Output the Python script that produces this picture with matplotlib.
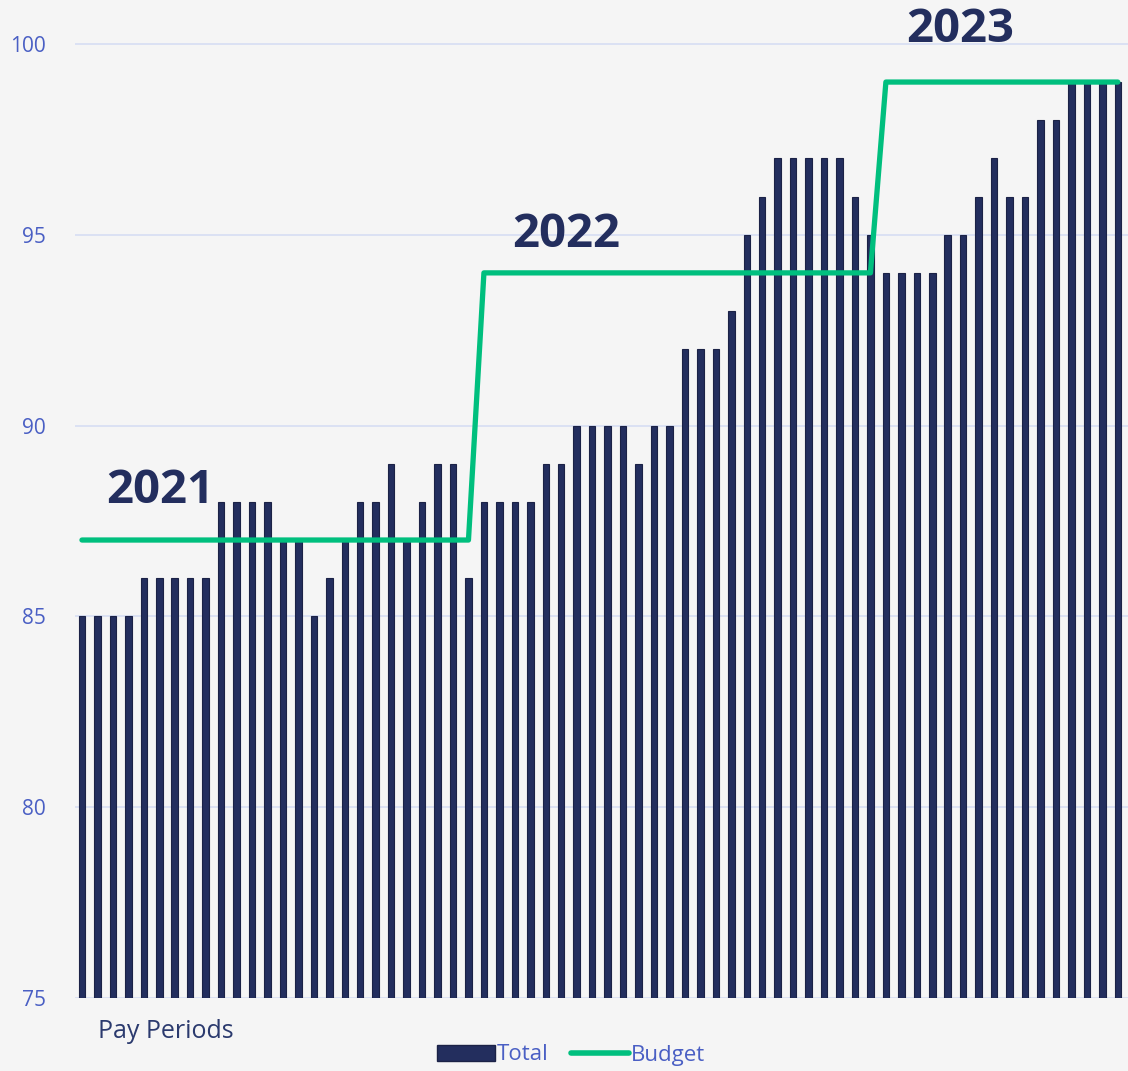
import numpy as np
from matplotlib import pyplot as plt
from matplotlib.patches import Patch
from matplotlib.lines import Line2D

# headcount per pay period
total = [85, 85, 85, 85, 86, 86, 86, 86, 86, 88, 88, 88, 88, 87, 87, 85, 86, 87, 88, 88,
         89, 87, 88, 89, 89, 86,
         88, 88, 88, 88, 89, 89, 90, 90, 90, 90, 89, 90, 90, 92, 92, 92, 93, 95, 96, 97,
         97, 97, 97, 97, 96, 95,
         94, 94, 94, 94, 95, 95, 96, 97, 96, 96, 98, 98, 99, 99, 99, 99]
budget_by_year = [87, 94, 99]
periods_per_year = [26, 26, 16]
years = ["2021", "2022", "2023"]
yticks = [75, 80, 85, 90, 95, 100]

budget = []
for b, n in zip(budget_by_year, periods_per_year):
    budget += [b] * n
x = np.arange(len(total))

navy = "#232e5e"
green = "#00bf7e"
tickblue = "#4a5fc4"

plt.rcParams['font.family'] = ['Open Sans', 'DejaVu Sans']

fig = plt.figure(figsize=(11.28, 10.71), dpi=100)
fig.patch.set_facecolor("#f5f5f5")
ax = fig.add_axes([75 / 1128, 73 / 1071, 1 - 75 / 1128, 1 - 73 / 1071])
ax.set_facecolor("none")

ax.bar(x, np.array(total) - 75, bottom=75, width=0.42, color=navy,
       edgecolor="#1b2246", linewidth=0.8, zorder=2)
ax.plot(x, budget, color=green, lw=3.8, solid_capstyle="round",
        solid_joinstyle="round", zorder=3)

ax.set_xlim(-0.45, 67.66)
ax.set_ylim(75, 101.15)
ax.set_yticks(yticks)
ax.set_xticks([])
ax.grid(axis="y", color="#d6ddf3", lw=1.2, zorder=0)
ax.tick_params(axis="y", length=0, pad=21, labelsize=15, labelcolor=tickblue)
for s in ax.spines.values():
    s.set_visible(False)

# year labels over each budget step
label_pos = [(5.05, 88.3), (31.3, 95.0), (56.8, 100.37)]
for yr, (lx, ly) in zip(years, label_pos):
    ax.text(lx, ly, yr, ha="center", va="center", fontsize=34,
            fontweight="bold", color=navy, zorder=4, clip_on=False)

fig.text(98 / 1128, 1 - 1032 / 1071, "Pay Periods", ha="left", va="center",
         fontsize=18, color="#2b3a6e")

handles = [Patch(facecolor=navy, edgecolor="#1b2246"),
           Line2D([0], [0], color=green, lw=4, solid_capstyle="round")]
fig.legend(handles, ["Total", "Budget"], loc="center", ncol=2,
           bbox_to_anchor=(571 / 1128, 1 - 1055 / 1071), frameon=False,
           fontsize=16, labelcolor=tickblue, handlelength=2.6,
           handleheight=0.7, handletextpad=0.1, columnspacing=1.0,
           borderpad=0)

fig.savefig("out.png", dpi=100, facecolor=fig.get_facecolor())
